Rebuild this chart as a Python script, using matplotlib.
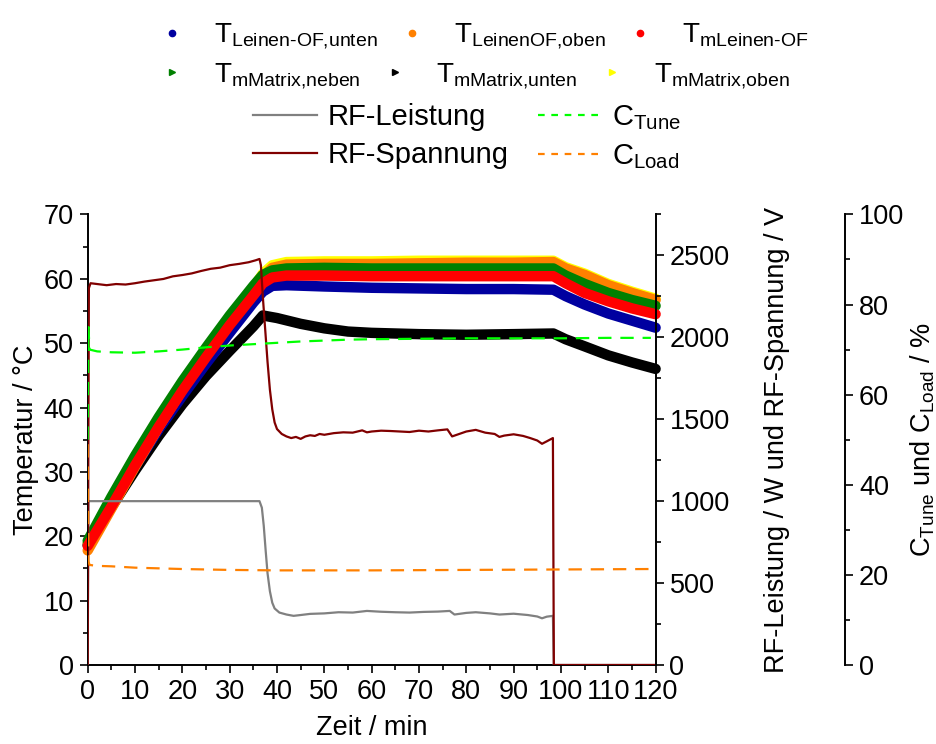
import matplotlib
matplotlib.use("Agg")
import matplotlib.pyplot as plt
from matplotlib.lines import Line2D
from matplotlib.ticker import MultipleLocator

plt.rcParams["font.family"] = ["Liberation Sans", "DejaVu Sans"]
plt.rcParams["mathtext.fontset"] = "custom"
plt.rcParams["mathtext.rm"] = "Liberation Sans"
plt.rcParams["mathtext.it"] = "Liberation Sans:italic"
plt.rcParams["mathtext.bf"] = "Liberation Sans:bold"

# ---- temperature traces (time in min, temperature in degC) ----
t_ramp = [0, 5, 10, 15, 20, 25, 30, 35, 37, 39, 42, 50, 60, 70, 80, 90, 98.4,
          101, 105, 110, 115, 120]
T_leinen_unten = [18.8, 24.8, 30.8, 36.6, 41.8, 46.8, 51.6, 56.3, 58.0, 58.9, 59.0,
                  58.8, 58.6, 58.5, 58.4, 58.4, 58.3, 57.3, 56.0, 54.6, 53.5, 52.4]
T_leinen_oben = [17.8, 24.3, 30.8, 37.0, 42.8, 48.3, 53.4, 58.2, 60.3, 61.7, 62.2,
                 62.3, 62.3, 62.4, 62.5, 62.5, 62.6, 61.6, 60.6, 59.0, 57.8, 56.7]
T_mleinen = [18.5, 24.6, 31.0, 37.0, 42.6, 47.8, 52.8, 57.4, 59.3, 60.2, 60.5,
             60.5, 60.4, 60.4, 60.4, 60.4, 60.4, 59.3, 57.8, 56.5, 55.4, 54.5]
T_matrix_neben = [19.3, 26.1, 32.5, 38.5, 44.1, 49.3, 54.3, 58.9, 60.6, 61.3, 61.6,
                  61.7, 61.6, 61.6, 61.6, 61.6, 61.6, 60.5, 59.2, 57.8, 56.7, 55.8]
T_matrix_oben = [18.9, 25.2, 31.6, 37.7, 43.3, 48.7, 53.8, 58.6, 60.8, 62.1, 62.6,
                 62.7, 62.7, 62.8, 62.8, 62.8, 62.8, 61.8, 60.8, 59.2, 58.0, 56.9]
t_black = [0, 5, 10, 15, 20, 25, 30, 35, 37, 40, 45, 50, 55, 60, 70, 80, 90, 98.4,
           101, 105, 110, 115, 120]
T_matrix_unten = [18.6, 24.5, 30.2, 35.6, 40.5, 44.9, 48.8, 52.6, 54.3, 53.9, 53.0,
                  52.3, 51.8, 51.6, 51.4, 51.3, 51.4, 51.5, 50.6, 49.5, 48.1, 47.0, 46.0]

# ---- RF generator (W / V) ----
t_spannung = [0, 0.25, 0.6, 2, 4, 6, 8, 10, 12, 14, 16, 18, 20, 22, 24, 26, 28, 30,
              32, 34, 35.5, 36.3, 36.6, 37.0, 37.5, 38.0, 38.5, 39.0, 39.5, 40.0, 41,
              42, 43, 44, 45, 46, 47, 48, 49, 50, 52, 54, 56, 58, 59, 60, 62, 64, 66,
              68, 70, 72, 74, 76, 77, 78, 80, 82, 84, 86, 87, 88, 90, 92, 93.5, 95, 96,
              97, 98.3, 98.5, 120]
rf_spannung = [0, 2300, 2330, 2325, 2318, 2325, 2322, 2330, 2340, 2348, 2356, 2372,
               2380, 2390, 2405, 2418, 2425, 2440, 2448, 2458, 2470, 2478, 2440, 2250,
               2050, 1850, 1680, 1560, 1480, 1440, 1410, 1395, 1385, 1392, 1380, 1395,
               1402, 1398, 1410, 1405, 1415, 1420, 1418, 1432, 1420, 1425, 1430, 1428,
               1425, 1422, 1430, 1425, 1432, 1438, 1395, 1405, 1425, 1435, 1418, 1410,
               1392, 1400, 1408, 1398, 1385, 1370, 1350, 1365, 1385, 0, 0]
t_leistung = [0, 0.15, 36.3, 36.8, 37.2, 37.6, 38.0, 38.5, 39.0, 39.5, 40.5, 42, 43.5,
              45, 47, 50, 53, 56, 59, 62, 65, 68, 71, 74, 76.5, 77.5, 80, 82, 85, 87,
              90, 93, 95, 96, 97, 98.3, 98.5, 120]
rf_leistung = [0, 1000, 1000, 960, 850, 700, 560, 450, 380, 345, 320, 308, 300, 305,
               312, 315, 322, 320, 330, 325, 322, 320, 324, 326, 330, 308, 318, 322,
               315, 308, 313, 305, 296, 285, 295, 300, 0, 0]

# ---- matching network capacitors (%) ----
t_cap = [0, 0.15, 0.4, 2, 5, 10, 15, 20, 25, 30, 35, 40, 45, 50, 55, 60, 70, 80, 90,
         100, 110, 119]
c_tune = [50, 75, 70, 69.6, 69.4, 69.3, 69.6, 70.0, 70.5, 70.9, 71.2, 71.5, 71.8,
          72.0, 72.2, 72.3, 72.4, 72.5, 72.5, 72.5, 72.6, 72.6]
c_load = [49, 23, 22.2, 22.0, 21.9, 21.6, 21.45, 21.3, 21.2, 21.1, 21.05, 21.0, 21.0,
          21.0, 21.0, 21.0, 21.05, 21.1, 21.15, 21.2, 21.25, 21.3]

temp_series = [
    (t_black, T_matrix_unten, "black", r"T$_\text{mMatrix,unten}$", ">"),
    (t_ramp, T_leinen_unten, "#0000A0", r"T$_\text{Leinen-OF,unten}$", "o"),
    (t_ramp, T_matrix_oben, "#FFFF00", r"T$_\text{mMatrix,oben}$", ">"),
    (t_ramp, T_leinen_oben, "#FF8000", r"T$_\text{LeinenOF,oben}$", "o"),
    (t_ramp, T_matrix_neben, "#008000", r"T$_\text{mMatrix,neben}$", ">"),
    (t_ramp, T_mleinen, "#FF0000", r"T$_\text{mLeinen-OF}$", "o"),
]

FS = 19.5
fig = plt.figure(figsize=(9.36, 7.44), dpi=100)
ax = fig.add_axes([87.7 / 936, 79 / 744, 567.9 / 936, 450.6 / 744])
ax2 = ax.twinx()
ax3 = ax.twinx()

for tt, yy, col, lab, mk in temp_series:
    ax.plot(tt, yy, color=col, lw=7.5, solid_capstyle="round",
            solid_joinstyle="round", clip_on=False, zorder=2)

ax2.plot(t_leistung, rf_leistung, color="#808080", lw=1.6)
ax2.plot(t_spannung, rf_spannung, color="#800000", lw=1.6)
ax3.plot(t_cap, c_tune, color="#00FF00", lw=1.6, dashes=(6, 4))
ax3.plot(t_cap, c_load, color="#FF8000", lw=1.6, dashes=(6, 4))

ax.set_xlim(0, 120)
ax.set_ylim(0, 70)
ax2.set_ylim(0, 2750)
ax3.set_ylim(0, 100)

ax.xaxis.set_major_locator(MultipleLocator(10))
ax.xaxis.set_minor_locator(MultipleLocator(5))
ax.yaxis.set_major_locator(MultipleLocator(10))
ax.yaxis.set_minor_locator(MultipleLocator(5))
ax2.yaxis.set_major_locator(MultipleLocator(500))
ax2.yaxis.set_minor_locator(MultipleLocator(250))
ax3.yaxis.set_major_locator(MultipleLocator(20))
ax3.yaxis.set_minor_locator(MultipleLocator(10))

for a in (ax, ax2, ax3):
    a.spines["top"].set_visible(False)
    for s in a.spines.values():
        s.set_linewidth(1.4)
    a.tick_params(which="major", length=6, width=1.2, labelsize=FS, pad=4)
    a.tick_params(which="minor", length=3.5, width=1.2)
ax.spines["right"].set_visible(False)
ax2.spines["left"].set_visible(False)
ax2.spines["bottom"].set_visible(False)
ax3.spines["left"].set_visible(False)
ax3.spines["bottom"].set_visible(False)
ax3.spines["right"].set_position(("axes", 1.3335))
ax.set_zorder(1)
ax2.set_zorder(2)
ax3.set_zorder(3)
ax2.patch.set_visible(False)
ax3.patch.set_visible(False)

ax.set_xlabel("Zeit / min", fontsize=FS, labelpad=7)
ax.set_ylabel("Temperatur / °C", fontsize=FS, labelpad=3)
ax2.set_ylabel("RF-Leistung / W und RF-Spannung / V", fontsize=FS, labelpad=25)
ax3.set_ylabel(r"C$_\text{Tune}$ und C$_\text{Load}$ / %", fontsize=FS, labelpad=3)

# ---- legends ----
def mk_handle(col, mk):
    return Line2D([], [], ls="none", marker=mk, color=col, markersize=4.5)

lookup = {lab: (col, mk) for _, _, col, lab, mk in temp_series}
row1 = [r"T$_\text{Leinen-OF,unten}$", r"T$_\text{LeinenOF,oben}$",
        r"T$_\text{mLeinen-OF}$"]
row2 = [r"T$_\text{mMatrix,neben}$", r"T$_\text{mMatrix,unten}$",
        r"T$_\text{mMatrix,oben}$"]
for labels, ypos in ((row1, 0.951), (row2, 0.898)):
    hs = [mk_handle(*lookup[l]) for l in labels]
    fig.legend(hs, labels, loc="center left", bbox_to_anchor=(158 / 936, ypos),
               ncol=3, frameon=False, fontsize=FS + 0.5, handlelength=1.0,
               handletextpad=1.0, columnspacing=0.75, borderpad=0,
               borderaxespad=0)

LFS = FS + 1.5
line_h = [Line2D([], [], color="#808080", lw=1.6),
          Line2D([], [], color="#800000", lw=1.6),
          Line2D([], [], color="#00FF00", lw=1.6, dashes=(3, 3)),
          Line2D([], [], color="#FF8000", lw=1.6, dashes=(3, 3))]
line_l = ["RF-Leistung", "RF-Spannung", r"C$_\text{Tune}$", r"C$_\text{Load}$"]
fig.legend(line_h, line_l, loc="center left", bbox_to_anchor=(253 / 936, 0.816),
           ncol=2, frameon=False, fontsize=LFS, handlelength=2.2,
           handletextpad=0.35, columnspacing=1.0, labelspacing=0.35, borderpad=0,
           borderaxespad=0)

fig.savefig("out.png", dpi=100)
